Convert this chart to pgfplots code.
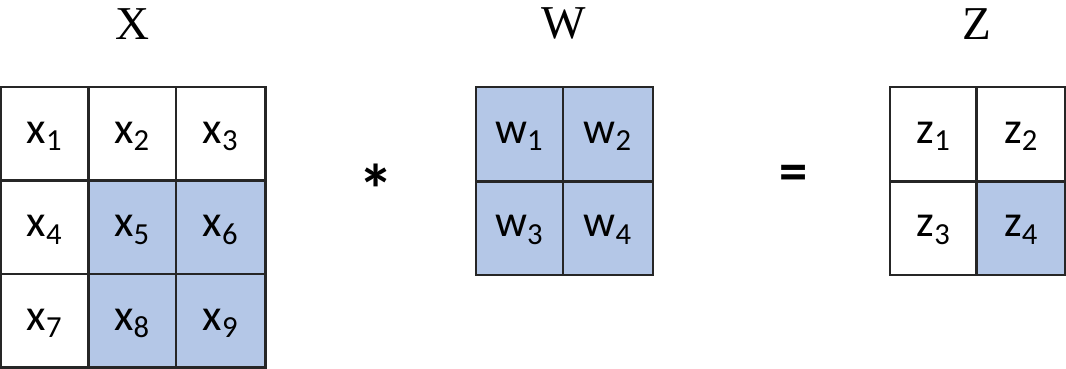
\documentclass[border=0pt]{standalone}
\usepackage{pgfplots}
\pgfplotsset{compat=1.18}
\usepackage{fontspec}
\setmainfont{Liberation Serif}
\newfontfamily\calfont{Carlito}
\definecolor{cellblue}{HTML}{B4C7E7}
\newcommand{\cell}[2]{{\calfont\fontsize{19}{20}\selectfont #1\raisebox{-0.35ex}{\fontsize{13}{13}\selectfont #2}}}
\begin{document}
\begin{tikzpicture}
\begin{axis}[scale only axis, width=16cm, height=6.034cm,
  xmin=0, xmax=1066, ymin=0, ymax=402, y dir=reverse,
  axis lines=none, clip=false]
\addplot[draw=black!85, line width=0.9pt, fill=white] coordinates {(2,103)(89,103)(89,196)(2,196)} -- cycle;
\addplot[draw=black!85, line width=0.9pt, fill=white] coordinates {(89,103)(176,103)(176,196)(89,196)} -- cycle;
\addplot[draw=black!85, line width=0.9pt, fill=white] coordinates {(176,103)(265,103)(265,196)(176,196)} -- cycle;
\addplot[draw=black!85, line width=0.9pt, fill=white] coordinates {(2,196)(89,196)(89,289)(2,289)} -- cycle;
\addplot[draw=black!85, line width=0.9pt, fill=cellblue] coordinates {(89,196)(176,196)(176,289)(89,289)} -- cycle;
\addplot[draw=black!85, line width=0.9pt, fill=cellblue] coordinates {(176,196)(265,196)(265,289)(176,289)} -- cycle;
\addplot[draw=black!85, line width=0.9pt, fill=white] coordinates {(2,289)(89,289)(89,382)(2,382)} -- cycle;
\addplot[draw=black!85, line width=0.9pt, fill=cellblue] coordinates {(89,289)(176,289)(176,382)(89,382)} -- cycle;
\addplot[draw=black!85, line width=0.9pt, fill=cellblue] coordinates {(176,289)(265,289)(265,382)(176,382)} -- cycle;
% W grid
\addplot[draw=black!85, line width=0.9pt, fill=cellblue] coordinates {(474,103)(561,103)(561,197)(474,197)} -- cycle;
\addplot[draw=black!85, line width=0.9pt, fill=cellblue] coordinates {(561,103)(650,103)(650,197)(561,197)} -- cycle;
\addplot[draw=black!85, line width=0.9pt, fill=cellblue] coordinates {(474,197)(561,197)(561,290)(474,290)} -- cycle;
\addplot[draw=black!85, line width=0.9pt, fill=cellblue] coordinates {(561,197)(650,197)(650,290)(561,290)} -- cycle;
% Z grid
\addplot[draw=black!85, line width=0.9pt, fill=white] coordinates {(886,103)(972,103)(972,197)(886,197)} -- cycle;
\addplot[draw=black!85, line width=0.9pt, fill=white] coordinates {(972,103)(1060,103)(1060,197)(972,197)} -- cycle;
\addplot[draw=black!85, line width=0.9pt, fill=white] coordinates {(886,197)(972,197)(972,290)(886,290)} -- cycle;
\addplot[draw=black!85, line width=0.9pt, fill=cellblue] coordinates {(972,197)(1060,197)(1060,290)(972,290)} -- cycle;
% titles
\node[font=\fontsize{20}{22}\selectfont] at (axis cs:133,40) {X};
\node[font=\fontsize{20}{22}\selectfont] at (axis cs:562,40) {W};
\node[font=\fontsize{20}{22}\selectfont] at (axis cs:972,40) {Z};
\node[font=\calfont\bfseries\fontsize{30}{30}\selectfont] at (axis cs:375,205) {*};
\node[font=\calfont\bfseries\fontsize{24}{24}\selectfont] at (axis cs:790,193) {=};
% labels
\node at (axis cs:45,152) {\cell{x}{1}};
\node at (axis cs:132,152) {\cell{x}{2}};
\node at (axis cs:220,152) {\cell{x}{3}};
\node at (axis cs:45,245) {\cell{x}{4}};
\node at (axis cs:132,245) {\cell{x}{5}};
\node at (axis cs:220,245) {\cell{x}{6}};
\node at (axis cs:45,338) {\cell{x}{7}};
\node at (axis cs:132,338) {\cell{x}{8}};
\node at (axis cs:220,338) {\cell{x}{9}};
\node at (axis cs:517,152) {\cell{w}{1}};
\node at (axis cs:605,152) {\cell{w}{2}};
\node at (axis cs:517,245) {\cell{w}{3}};
\node at (axis cs:605,245) {\cell{w}{4}};
\node at (axis cs:929,152) {\cell{z}{1}};
\node at (axis cs:1016,152) {\cell{z}{2}};
\node at (axis cs:929,245) {\cell{z}{3}};
\node at (axis cs:1016,245) {\cell{z}{4}};
\end{axis}
\end{tikzpicture}
\end{document}
